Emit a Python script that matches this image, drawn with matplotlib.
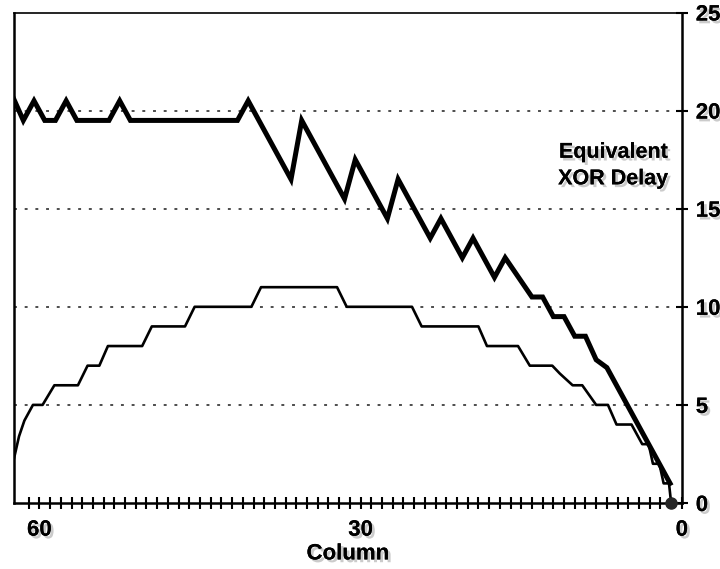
import matplotlib
matplotlib.use("Agg")
import matplotlib.pyplot as plt
import matplotlib.patheffects as pe
import numpy as np

# upper curve (thick zigzag), column vs equivalent XOR delay
upper_col = [62.4, 61.5, 60.5, 59.5, 58.5, 57.5, 56.5, 53.5, 52.5, 51.5, 41.5, 40.5,
             36.5, 35.5, 31.5, 30.5, 27.5, 26.5, 23.5, 22.5, 20.5, 19.5, 17.5, 16.5,
             14.0, 13.0, 12.0, 11.0, 10.0, 9.0, 8.0, 7.0, 1.1]
upper_val = [20.6, 19.5, 20.5, 19.5, 19.5, 20.5, 19.5, 19.5, 20.5, 19.5, 19.5, 20.5,
             16.5, 19.5, 15.5, 17.5, 14.5, 16.5, 13.5, 14.5, 12.5, 13.5, 11.5, 12.5,
             10.5, 10.5, 9.5, 9.5, 8.5, 8.5, 7.3, 6.9, 1.0]

# lower curve (thin staircase)
lower_col = [62.4, 61.9, 61.4, 60.6, 59.7, 58.6, 56.4, 55.5, 54.4, 53.6, 50.4, 49.5,
             46.4, 45.5, 40.2, 39.3, 32.2, 31.3, 25.2, 24.3, 19.0, 18.2, 15.3, 14.2,
             12.1, 11.4, 10.2, 9.3, 8.0, 6.9, 6.1, 4.7, 3.7, 3.1, 2.7, 2.1, 1.7, 1.2, 1.0]
lower_val = [2.2, 3.4, 4.2, 5.0, 5.0, 6.0, 6.0, 7.0, 7.0, 8.0, 8.0, 9.0,
             9.0, 10.0, 10.0, 11.0, 11.0, 10.0, 10.0, 9.0, 9.0, 8.0, 8.0, 7.0,
             7.0, 6.6, 6.0, 6.0, 5.0, 5.0, 4.0, 4.0, 3.0, 3.0, 2.0, 2.0, 1.0, 1.0, 0.0]

x_ticks = [60, 30, 0]
y_ticks = [0, 5, 10, 15, 20, 25]
grid_levels = [5, 10, 15, 20]

plt.rcParams['font.family'] = ['Liberation Sans', 'DejaVu Sans']
shadow = [pe.withSimplePatchShadow(offset=(2, -2), shadow_rgbFace='0.6', alpha=0.5), pe.Normal()]

fig = plt.figure(figsize=(7.2, 5.69), dpi=100)
ax = fig.add_axes([0.019, 0.116, 0.928, 0.862])

for g in grid_levels:
    ax.axhline(g, color='0.3', lw=1.4, ls=(0, (1.5, 4)), zorder=1)

ax.plot(lower_col, lower_val, color='black', lw=1.9, zorder=3)
ax.plot(upper_col, upper_val, color='black', lw=3.6, zorder=4, solid_joinstyle='miter')
ax.plot([lower_col[-1]], [lower_val[-1]], 'o', color='0.15', ms=8, zorder=6, clip_on=False)

ax.set_xlim(62.4, 0)
ax.set_ylim(0, 25)

ax.set_xticks(x_ticks)
ax.set_xticks(np.arange(1, 62, 1), minor=True)
ax.yaxis.tick_right()
ax.set_yticks(y_ticks)

ax.tick_params(axis='x', which='both', direction='inout', length=8, width=1.5, pad=8,
               labelsize=16)
ax.tick_params(axis='y', which='both', direction='inout', length=8, width=1.5, pad=6,
               labelsize=16)
for lab in ax.get_xticklabels() + ax.get_yticklabels():
    lab.set_fontweight('bold')
    lab.set_path_effects(shadow)

for s in ax.spines.values():
    s.set_linewidth(1.8)
    s.set_color('black')
ax.spines['top'].set_linewidth(1.2)

ax.set_xlabel('Column', fontsize=16, fontweight='bold', labelpad=2, path_effects=shadow)

ax.text(1.3, 17.2, 'Equivalent\nXOR Delay', ha='right', va='center', fontsize=15.5,
        fontweight='bold', linespacing=1.35, path_effects=shadow)

fig.savefig('out.png', dpi=100)
